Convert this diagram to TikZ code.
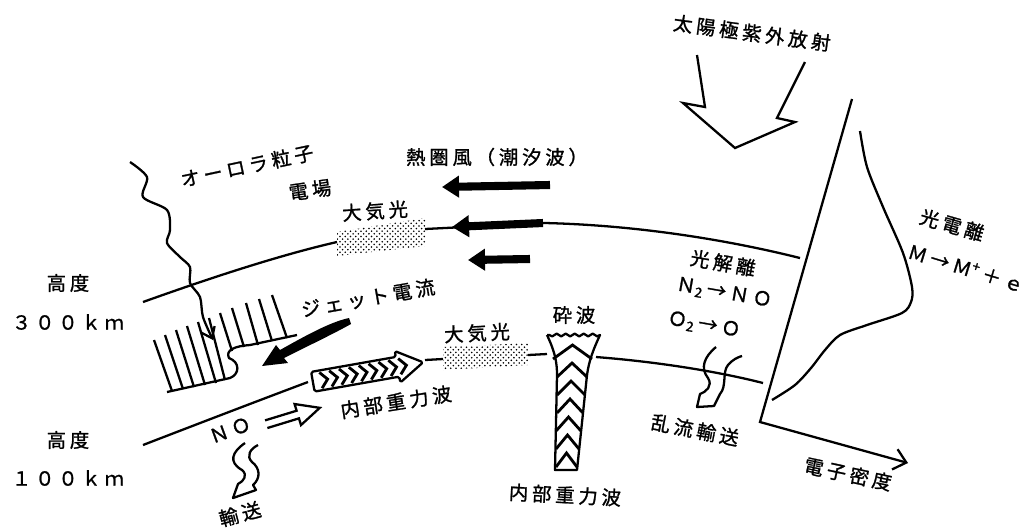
\documentclass[tikz,border=0pt]{standalone}
\usepackage{fontspec}
\newfontfamily\jp[LetterSpace=20,FakeBold=1.2]{Noto Sans CJK JP}
\usetikzlibrary{arrows.meta,patterns,decorations.pathmorphing}

\tikzset{
  lbl/.style={font=\jp\fontsize{11}{13}\selectfont, inner sep=1pt},
  windarrow/.style={line width=4.6pt,-{Triangle[length=0.34cm,width=0.42cm]}},
  airglow/.style={pattern=crosshatch dots, pattern color=black},
  chev/.style={line width=1.6pt, line join=miter},
}

\begin{document}
\begin{tikzpicture}[x=0.02cm,y=-0.02cm,line width=1.3pt,line join=round]
            \useasboundingbox (0,0) rectangle (1030,529);

            % Hoehen 300 km und 100 km
            \draw (143,302) .. controls (210,278) and (280,255) .. (337,242);
            \draw (425,229) -- (545,223) .. controls (630,225) and (720,238) .. (800,258);
            \draw (143,445) .. controls (200,423) and (260,400) .. (308,382);
            \draw (425,360) -- (443,359);
            \draw (528,355) -- (547,354);
            \draw (596,357) .. controls (660,362) and (720,372) .. (763,383);

            % Airglow
            \path[airglow] (337,232) -- (425,218) -- (425,246) -- (337,256) -- cycle;
            \path[airglow] (443,347) -- (528,343) -- (528,365) -- (443,370) -- cycle;

            % Wind
            \draw[windarrow] (550,185) -- (442,187);
            \draw[windarrow] (543,223) -- (452,227);
            \draw[windarrow] (530,259) -- (468,260);

            % Elektronendichte
            \draw[line join=miter,-{Straight Barb[length=0.24cm,width=0.42cm]}] (852,99) -- (760,422) -- (908,463);
            \draw plot[smooth] coordinates {(860,131) (867,167) (883,207) (903,253) (912,287) (911,302) (902,313) (867,325) (840,335) (825,350) (811,368) (795,385) (772,400)};

            % EUV
            \draw[line join=miter] (697,55) -- (705,107) -- (683,103) -- (735,148) -- (795,122) -- (777,118) -- (805,62);

            % Aurora
            \draw[-{Straight Barb[length=0.2cm,width=0.3cm]}] plot[smooth] coordinates {(130,162) (147,177) (143,197) (167,210) (170,230) (167,243) (180,257) (190,267) (190,283) (200,297) (203,317) (213,340)};
            \foreach \xa/\ya/\xb/\yb in {154/340/172/391, 165/335/183/389, 176/330/194/387, 187/326/205/385, 198/322/216/383, 209/318/225/380, 220/313/232/351, 232/308/244/347, 246/303/258/345, 259/299/272/341, 272/295/287/338}
            \draw (\xa,\ya) -- (\xb,\yb);
            \draw (167,392) -- (230,378) .. controls (240,374) and (240,362) .. (229,358) .. controls (225,350) and (235,346) .. (250,345) -- (297,335);

            % Jet
            \fill (349,318) .. controls (330,322) and (305,336) .. (280,350) -- (276,345) -- (262,366) -- (288,363) -- (284,358) .. controls (310,345) and (335,333) .. (351,324) -- cycle;

            % Schwerewelle
            \begin{scope}[shift={(368,372)},rotate=10]
            \draw[fill=white,rounded corners=1pt] (-56,-10) -- (30,-10) -- (30,-16) -- (56,0) -- (30,16) -- (30,10) -- (-56,10) -- cycle;
            \foreach \c in {-48,-38,...,32}
            \draw[chev] (\c,-8) -- (\c+7,0) -- (\c,8);
            \end{scope}

            % NO
            \begin{scope}[shift={(293,416)},rotate=17]
            \draw[line join=miter] (-28,-4) -- (5,-4) -- (5,-11) -- (28,0) -- (5,11) -- (5,4) -- (-28,4);
            \end{scope}
            \draw (245,443) .. controls (232,452) and (228,462) .. (242,470) .. controls (248,475) and (244,481) .. (238,484) -- (233,498) -- (256,490) -- (253,485) .. controls (261,478) and (260,468) .. (252,462) .. controls (246,456) and (250,449) .. (258,445);
            \draw (716,347) .. controls (704,357) and (700,368) .. (708,378) .. controls (713,386) and (706,392) .. (700,394) -- (697,407) -- (714,406) -- (720,394) .. controls (727,386) and (722,372) .. (728,365) .. controls (732,360) and (738,357) .. (742,356);

            % Brechende Welle
            \draw (547,335) .. controls (555,352) and (557,362) .. (557,375) -- (555,470) -- (577,470) -- (587,375) .. controls (589,360) and (594,348) .. (600,335)
            decorate[decoration={snake,amplitude=0.8pt,segment length=0.18cm}] {-- (547,335)};
            \foreach \ya/\xl/\xr in {345/553/592, 363/557/587, 381/557/585, 399/557/583, 417/556/581, 435/556/579, 453/556/577}
            \draw[chev] (\xl,\ya+14) -- ({(\xl+\xr)/2},\ya) -- (\xr,\ya+14);

            % Beschriftung
            \node[lbl,rotate=-7.6] (euv) at (752,33) {太陽極紫外放射};
            \node[lbl] (wind) at (497,157) {熱圏風（潮汐波）};
            \node[lbl,rotate=12] (aurora) at (247,166) {オーロラ粒子};
            \node[lbl,rotate=8] (efield) at (310,190) {電場};
            \node[lbl,rotate=4] (glowA) at (375,211) {大気光};
            \node[lbl] (altA) at (68,283) {高度};
            \node[lbl] (kmA) at (68,322) {３００ｋｍ};
            \node[lbl] (altB) at (68,440) {高度};
            \node[lbl] (kmB) at (68,478) {１００ｋｍ};
            \node[lbl,rotate=10] (jet) at (368,298) {ジェット電流};
            \node[lbl,rotate=3] (glowB) at (477,333) {大気光};
            \node[lbl] (breaking) at (574,315) {砕波};
            \node[lbl,rotate=9] (igwA) at (396,402) {内部重力波};
            \node[lbl,rotate=-3] (igwB) at (565,495) {内部重力波};
            \node[lbl,rotate=20] (no) at (230,430) {ＮＯ};
            \node[lbl,rotate=15] (transA) at (240,514) {輸送};
            \node[lbl,rotate=-10] (photodiss) at (723,263) {光解離};
            \node[lbl,rotate=-10] (reacN) at (724,293) {Ｎ\textsubscript{2}\,→ＮＯ};
            \node[lbl,rotate=-10] (reacO) at (704,325) {Ｏ\textsubscript{2}\,→Ｏ};
            \node[lbl,rotate=-11] (transB) at (695,430) {乱流輸送};
            \node[lbl,rotate=-16] (photoion) at (952,225) {光電離};
            \node[lbl,rotate=-17] (reacM) at (966,268) {Ｍ→Ｍ\textsuperscript{+}\,＋ｅ};
            \node[lbl,rotate=-12] (edens) at (848,474) {電子密度};

\end{tikzpicture}
\end{document}
